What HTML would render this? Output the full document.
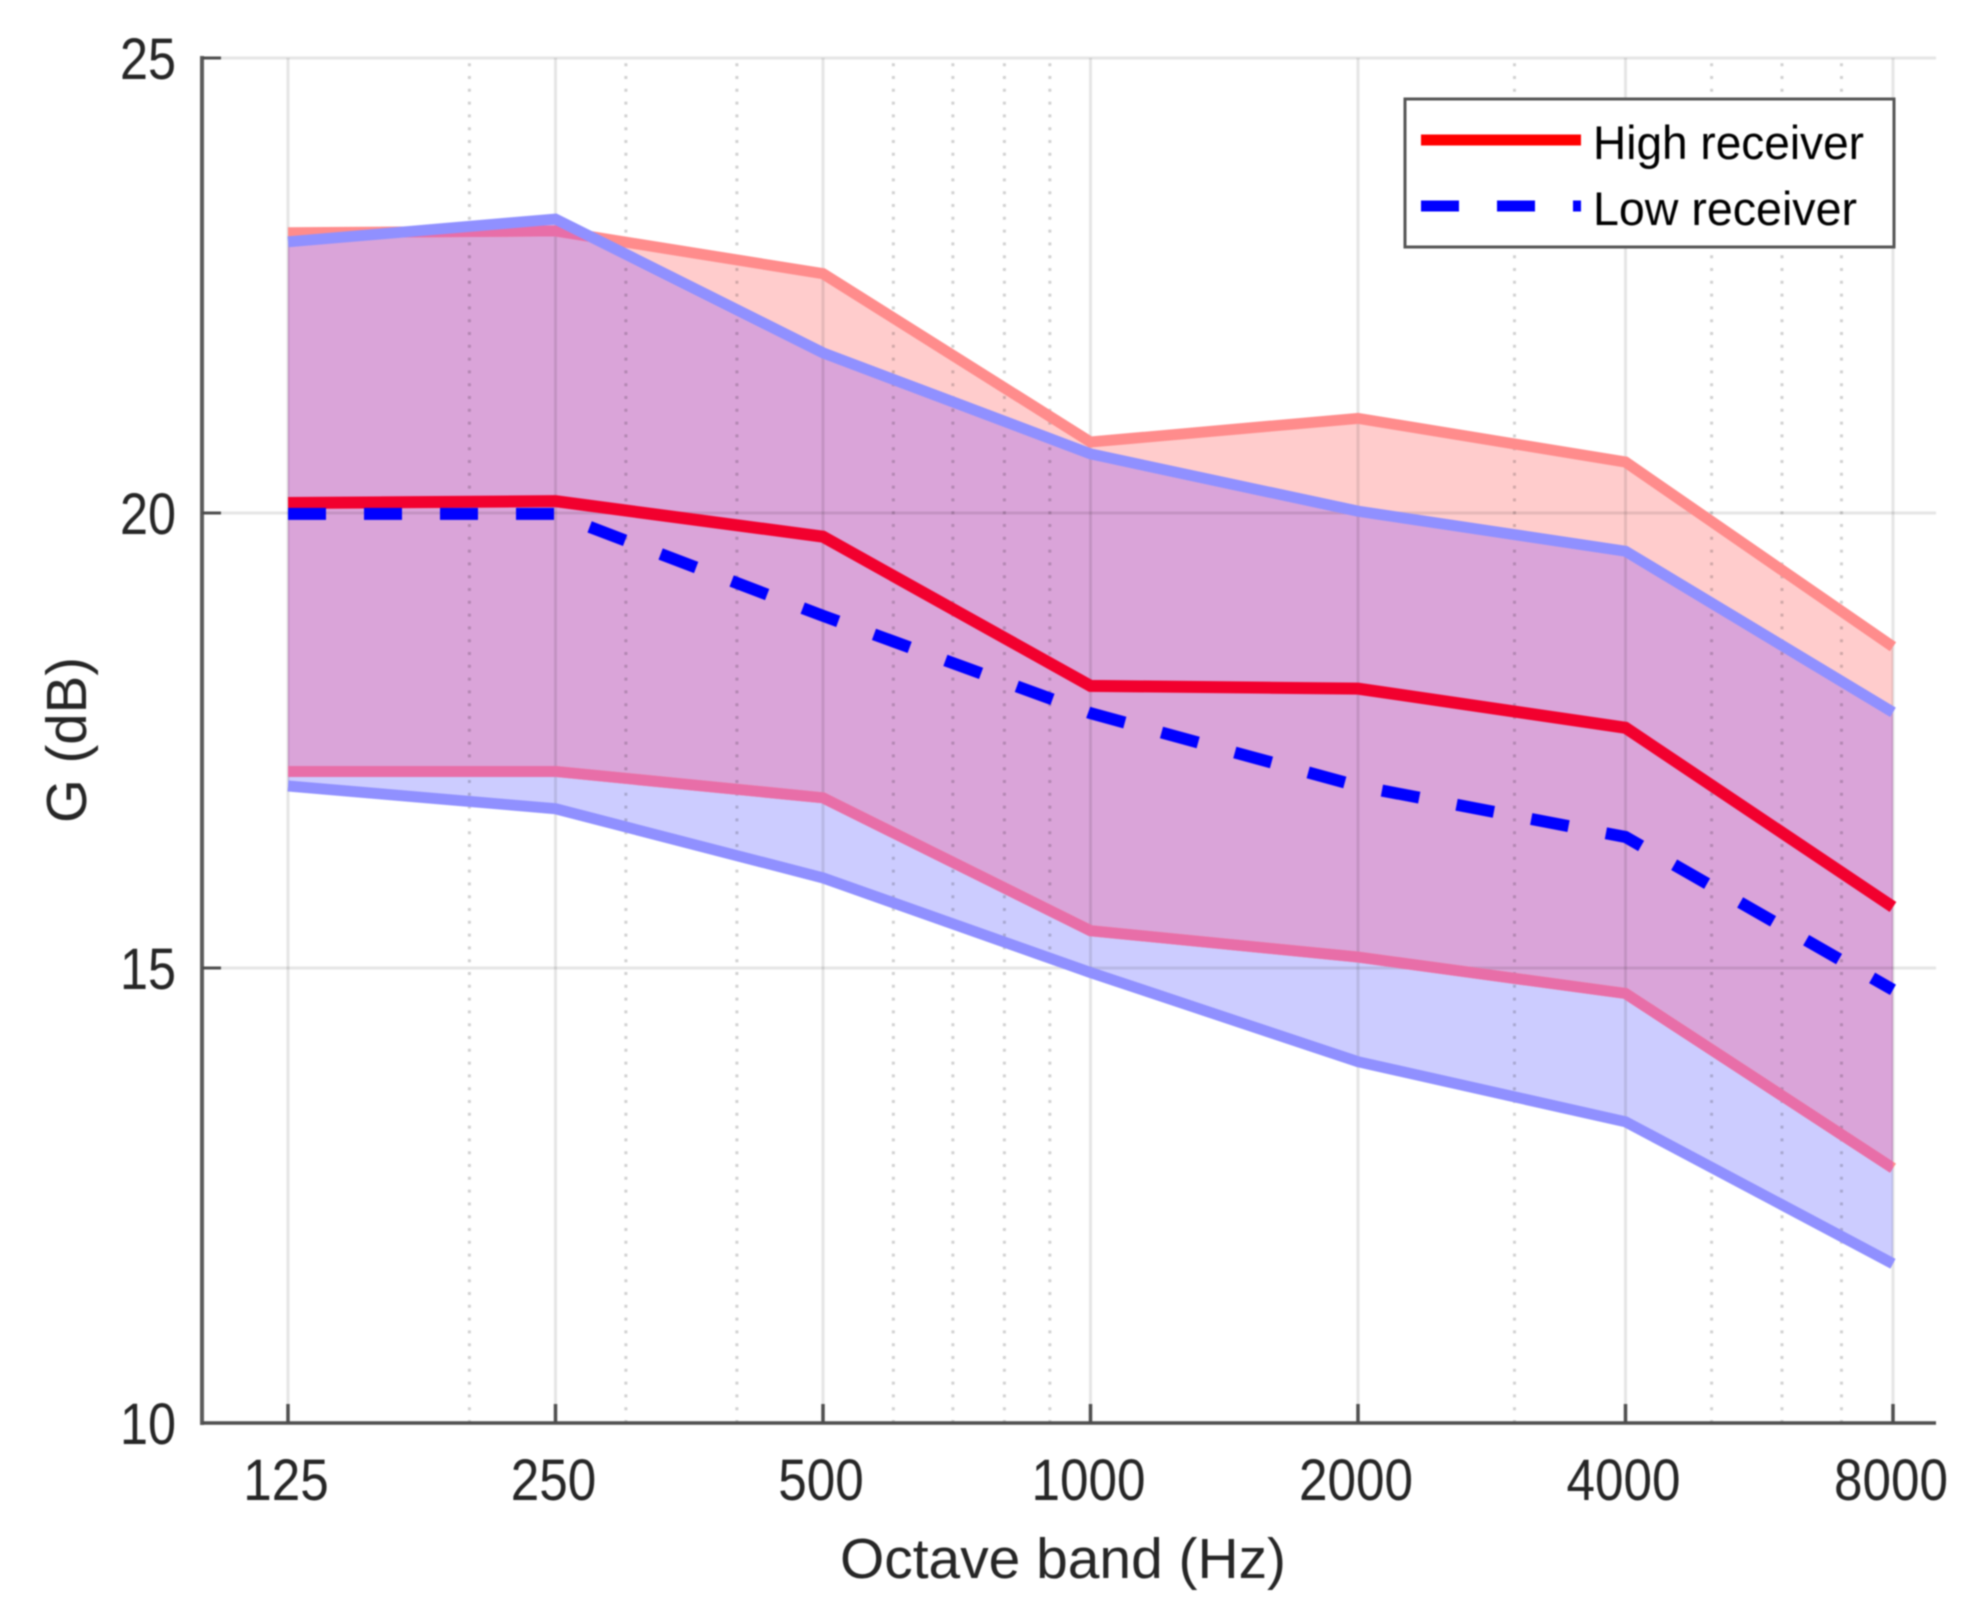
<!DOCTYPE html>
<html lang="en">
<head>
<meta charset="utf-8">
<title>G (dB) by octave band</title>
<style>
  html, body { margin: 0; padding: 0; background: #ffffff; }
  #chart { display: block; width: 1969px; height: 1624px; filter: blur(0.8px); }
  text { font-family: "Liberation Sans", Arial, sans-serif; }
</style>
</head>
<body>
<svg id="chart" xmlns="http://www.w3.org/2000/svg" width="1969" height="1624" viewBox="0 0 1969 1624">
  <defs id="defs"></defs>
  <g id="fills"></g>
  <g id="grid"></g>
  <g id="series"></g>
  <g id="axes"></g>
  <text x="1063" y="1578" text-anchor="middle" font-size="57" fill="#262626" textLength="446" lengthAdjust="spacingAndGlyphs">Octave band (Hz)</text>
  <text transform="translate(86 740) rotate(-90)" text-anchor="middle" font-size="57" fill="#262626" textLength="166" lengthAdjust="spacingAndGlyphs">G (dB)</text>
  <g>
    <rect x="1405" y="99" width="489" height="148" fill="#ffffff" stroke="#555555" stroke-width="3"></rect>
    <g>
      <line x1="1421" y1="140" x2="1581" y2="140" stroke="#ff0000" stroke-width="11"></line>
      <text x="1593" y="159" font-size="47" fill="#000000" textLength="271" lengthAdjust="spacingAndGlyphs">High receiver</text>
    </g>
    <g>
      <line x1="1421" y1="206" x2="1581" y2="206" stroke="#0000ff" stroke-width="11" stroke-dasharray="38 38"></line>
      <text x="1593" y="225" font-size="47" fill="#000000" textLength="264" lengthAdjust="spacingAndGlyphs">Low receiver</text>
    </g>
  </g>
</svg>
<script>
// Chart data
const bands = [125, 250, 500, 1000, 2000, 4000, 8000];
const bandLabels = ['125', '250', '500', '1000', '2000', '4000', '8000'];
const minorFreqs = [200, 300, 400, 600, 700, 800, 900, 3000, 5000, 6000, 7000];
const yTicks = [10, 15, 20, 25];
const yTickLabels = ['10', '15', '20', '25'];
const highUpper = [23.08, 23.10, 22.63, 20.78, 21.04, 20.56, 18.53];
const highMean = [20.11, 20.13, 19.74, 18.10, 18.07, 17.64, 15.67];
const highLower = [17.16, 17.16, 16.87, 15.41, 15.12, 14.72, 12.80];
const lowUpper = [22.98, 23.23, 21.76, 20.65, 20.02, 19.58, 17.81];
const lowMean = [19.99, 19.99, 18.87, 17.80, 17.00, 16.44, 14.76];
const lowLower = [17.00, 16.75, 15.99, 14.95, 13.97, 13.31, 11.75];

const NS = 'http://www.w3.org/2000/svg';
const plotLeft = 202, plotRight = 1936, plotTop = 58, plotBottom = 1423;

function xScale(f) { return 288 + 267.5 * Math.log2(f / 125); }
function yScale(v) { return plotBottom - (v - 10) * (plotBottom - plotTop) / 15; }

function make(parent, tag, attrs, text) {
  const el = document.createElementNS(NS, tag);
  for (const k in attrs) el.setAttribute(k, attrs[k]);
  if (text !== undefined) el.textContent = text;
  parent.appendChild(el);
  return el;
}
function linePoints(vals) {
  return vals.map(function (v, i) { return xScale(bands[i]) + ',' + yScale(v); }).join(' ');
}
function bandPoints(up, lo) {
  const a = up.map(function (v, i) { return xScale(bands[i]) + ',' + yScale(v); });
  const b = lo.map(function (v, i) { return xScale(bands[i]) + ',' + yScale(v); }).reverse();
  return a.concat(b).join(' ');
}

const defs = document.getElementById('defs');
const fills = document.getElementById('fills');
const grid = document.getElementById('grid');
const series = document.getElementById('series');
const axes = document.getElementById('axes');

// Clip regions derived from the data
const clipHigh = make(defs, 'clipPath', { id: 'clip-high' });
make(clipHigh, 'polygon', { points: bandPoints(highUpper, highLower) });
const clipLow = make(defs, 'clipPath', { id: 'clip-low' });
make(clipLow, 'polygon', { points: bandPoints(lowUpper, lowLower) });

// Band fills
const fillHigh = make(fills, 'polygon', { points: bandPoints(highUpper, highLower), fill: '#ff0000', 'fill-opacity': 0.2 });


const fillLow = make(fills, 'polygon', { points: bandPoints(lowUpper, lowLower), fill: '#0000ff', 'fill-opacity': 0.2 });


const overlapWrap = make(fills, 'g', { 'clip-path': 'url(#clip-high)' });


make(overlapWrap, 'polygon', { points: bandPoints(lowUpper, lowLower), fill: '#ffa3dd', 'fill-opacity': 0.27 });

// Grid
yTicks.forEach(function (t) {
  if (t === 10) return;
  const g = make(grid, 'line', { x1: plotLeft, x2: plotRight, y1: yScale(t), y2: yScale(t), stroke: '#000', 'stroke-opacity': 0.1, 'stroke-width': 3 });
  
  
});
bands.forEach(function (f) {
  const g = make(grid, 'line', { x1: xScale(f), x2: xScale(f), y1: plotTop, y2: plotBottom, stroke: '#000', 'stroke-opacity': 0.1, 'stroke-width': 3 });
  
  
});
minorFreqs.forEach(function (f) {
  const g = make(grid, 'line', { x1: xScale(f), x2: xScale(f), y1: plotBottom, y2: plotTop, stroke: '#000', 'stroke-opacity': 0.18, 'stroke-width': 3, 'stroke-dasharray': '3 9.8' });
  
  
});

// Series lines
const baseLine = { fill: 'none', 'stroke-width': 11, 'stroke-linejoin': 'miter' };
function seriesLine(vals, color, extra) {
  return make(series, 'polyline', Object.assign({ points: linePoints(vals), stroke: color }, baseLine, extra || {}));
}
const lineHighUpper = seriesLine(highUpper, '#ff8c8c');


const lineHighLower = seriesLine(highLower, '#ff8c8c');


const tintUpper = seriesLine(highUpper, '#e86ea8', { 'clip-path': 'url(#clip-low)' });


const tintLower = seriesLine(highLower, '#e86ea8', { 'clip-path': 'url(#clip-low)' });


const lineLowUpper = seriesLine(lowUpper, '#9090ff');


const lineLowLower = seriesLine(lowLower, '#9090ff');


const lineHighMean = seriesLine(highMean, '#f2002e', { 'stroke-width': 12 });


const lineLowMean = seriesLine(lowMean, '#0000ff', { 'stroke-width': 12, 'stroke-dasharray': '38 38' });



// Axes
const yAxis = make(axes, 'line', { x1: plotLeft, x2: plotLeft, y1: plotTop - 2, y2: plotBottom + 2, stroke: '#5c5c5c', 'stroke-width': 4 });


const xAxis = make(axes, 'line', { x1: plotLeft, x2: plotRight, y1: plotBottom, y2: plotBottom, stroke: '#4d4d4d', 'stroke-width': 3.5 });



yTicks.forEach(function (t, i) {
  const y = yScale(t);
  const tick = make(axes, 'line', { x1: plotLeft, x2: plotLeft + 19, y1: y, y2: y, stroke: '#4d4d4d', 'stroke-width': 3 });
  
  
  const label = make(axes, 'text', { x: 176, y: y + 21, 'text-anchor': 'end', 'font-size': 58, fill: '#262626', textLength: 56, lengthAdjust: 'spacingAndGlyphs' }, yTickLabels[i]);
  
  
});
bands.forEach(function (f, i) {
  const x = xScale(f);
  const tick = make(axes, 'line', { x1: x, x2: x, y1: plotBottom, y2: plotBottom - 19, stroke: '#4d4d4d', 'stroke-width': 3.5 });
  
  
  const label = make(axes, 'text', { x: x - 2, y: 1500, 'text-anchor': 'middle', 'font-size': 58, fill: '#262626', textLength: 28.5 * bandLabels[i].length, lengthAdjust: 'spacingAndGlyphs' }, bandLabels[i]);
  
  
});
</script>
</body>
</html>
